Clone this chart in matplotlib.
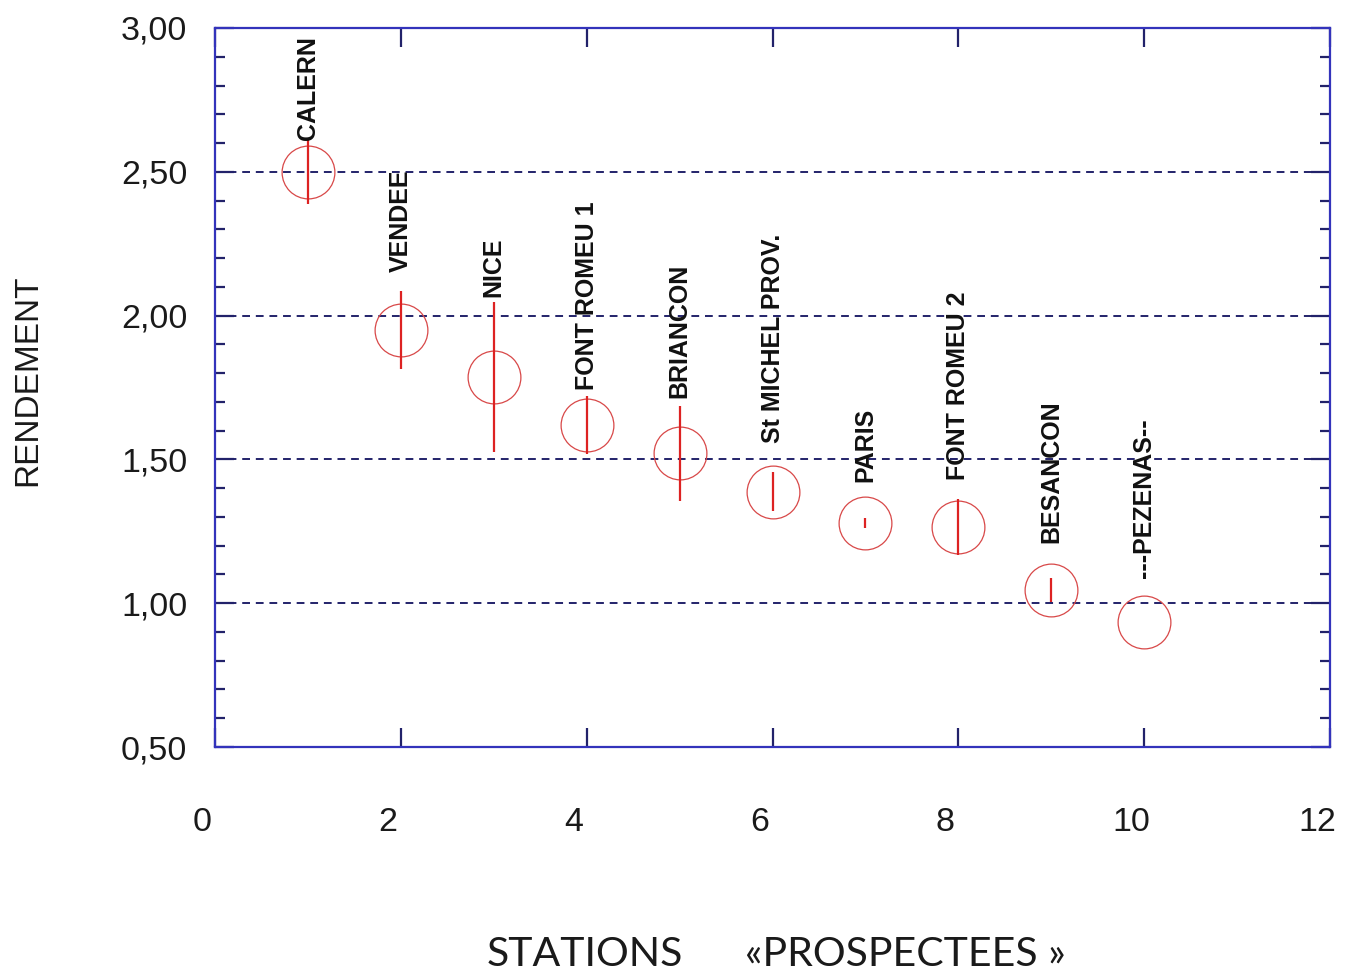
import matplotlib
matplotlib.use("Agg")
import matplotlib.pyplot as plt
import matplotlib.transforms as mtransforms
from matplotlib.ticker import MultipleLocator, FuncFormatter

# ---- data ----
stations = ["CALERN", "VENDEE", "NICE", "FONT ROMEU 1", "BRIANCON",
            "St MICHEL PROV.", "PARIS", "FONT ROMEU 2", "BESANCON", "---PEZENAS--"]
x_pos = [1, 2, 3, 4, 5, 6, 7, 8, 9, 10]
rendement = [2.50, 1.95, 1.787, 1.62, 1.522, 1.387, 1.279, 1.265, 1.046, 0.935]
erreur = [0.113, 0.134, 0.26, 0.10, 0.165, 0.068, 0.017, 0.097, 0.042, 0.0]
# layout: bottom of each station label (in data units)
label_y = [2.61, 2.152, 2.065, 1.741, 1.713, 1.557, 1.42, 1.43, 1.21, 1.088]

fig = plt.figure(figsize=(13.46, 9.74), dpi=100)
ax = fig.add_axes([215/1346, 1-747/974, (1330-215)/1346, (747-28)/974])

navy = "#22226a"
spine_blue = "#3333bb"
red = "#dd2222"

ax.set_xlim(0, 12)
ax.set_ylim(0.5, 3.0)

for yv in [1.0, 1.5, 2.0, 2.5]:
    ax.axhline(yv, color=navy, lw=1.4, ls=(0, (4, 3)), zorder=1)

ax.errorbar(x_pos, rendement, yerr=erreur, fmt='none', ecolor=red,
            elinewidth=1.6, capsize=0, zorder=3)
ax.plot(x_pos, rendement, 'o', ms=38, mfc='none', mec='#d84848', mew=0.9,
        zorder=2, ls='none')

for xs, ly, name in zip(x_pos, label_y, stations):
    ax.text(xs, ly, name, rotation=90, ha='center', va='bottom',
            fontsize=18, fontweight='bold', family='Liberation Sans',
            color='#111111', zorder=4)

for s in ax.spines.values():
    s.set_color(spine_blue)
    s.set_linewidth(1.6)

ax.xaxis.set_major_locator(MultipleLocator(2))
ax.yaxis.set_major_locator(MultipleLocator(0.5))
ax.yaxis.set_minor_locator(MultipleLocator(0.1))
ax.yaxis.set_major_formatter(FuncFormatter(lambda v, p: f"{v:.2f}".replace('.', ',')))

ax.tick_params(axis='x', which='major', direction='in', top=True, bottom=True,
               length=14, width=1.6, color=navy, pad=43.5, labelsize=24.5)
ax.tick_params(axis='y', which='major', direction='in', left=True, right=True,
               length=14, width=1.6, color=navy, pad=20, labelsize=24.5)
ax.tick_params(axis='y', which='minor', direction='in', left=True, right=True,
               length=7, width=1.6, color=navy)
for lab in ax.get_xticklabels() + ax.get_yticklabels():
    lab.set_family('Liberation Sans')
    lab.set_color('#1a1a1a')

offset = mtransforms.ScaledTranslation(-13/100, 0, fig.dpi_scale_trans)
for lab in ax.get_xticklabels():
    lab.set_transform(lab.get_transform() + offset)

fig.text(28/1346, 1-380/974, "RENDEMENT", rotation=90, ha='center', va='center',
         fontsize=24, family='Liberation Sans', color='#1a1a1a')
fig.text(487/1346, 1-955/974, "STATIONS", ha='left', va='center',
         fontsize=29.5, family='Lato', color='#1a1a1a')
fig.text(745/1346, 1-955/974, "«PROSPECTEES »", ha='left', va='center',
         fontsize=29.5, family='Lato', color='#1a1a1a')

fig.savefig("out.png", dpi=100)
